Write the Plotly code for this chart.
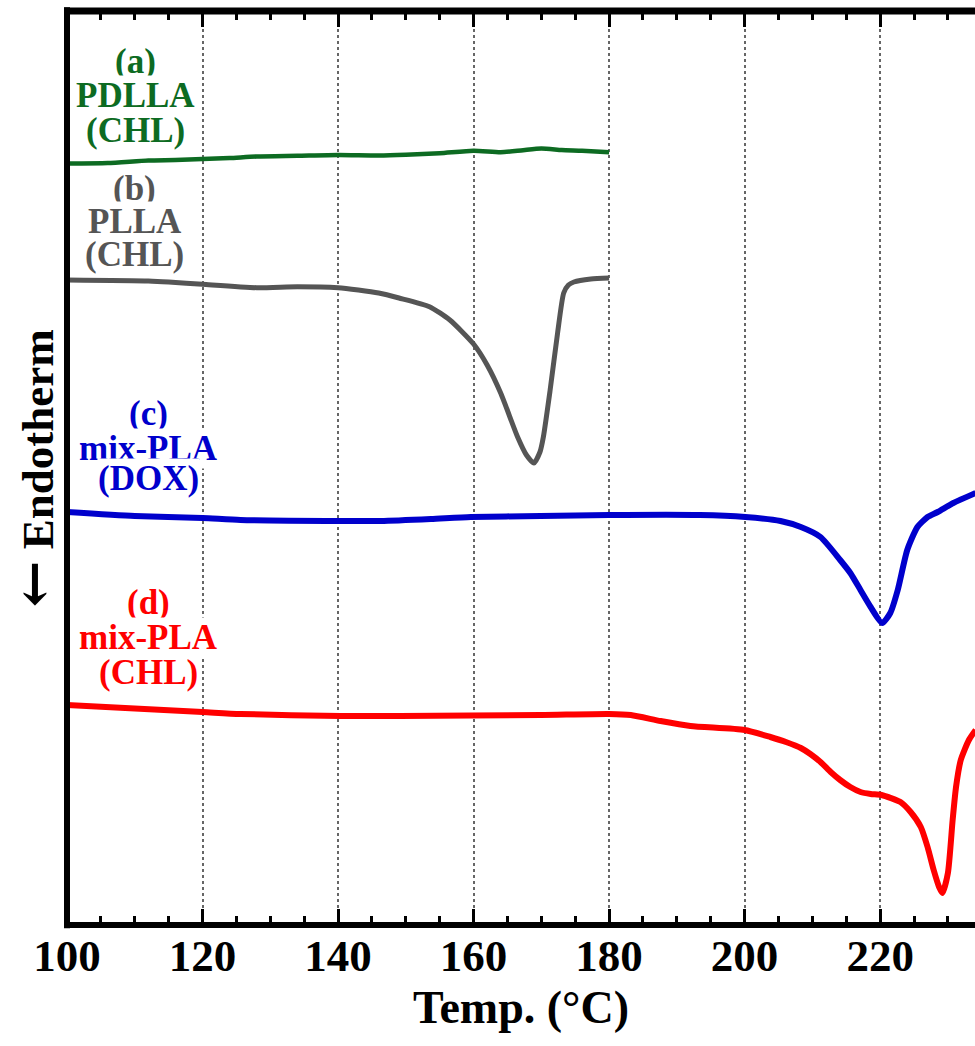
import plotly.graph_objects as go

# DSC heating scans, heat flow in arbitrary units (curves offset vertically)
temp_a = [100, 106, 112, 116, 120, 124, 128, 134, 140, 146, 150, 155, 160, 164, 167, 170, 173, 176, 180]
flow_a = [76.15, 76.2, 76.45, 76.5, 76.6, 76.7, 76.85, 76.92, 77.0, 76.95, 77.02, 77.17, 77.42, 77.28,
          77.45, 77.65, 77.5, 77.42, 77.27]

temp_b = [100, 112, 115, 120, 128, 134, 140, 143, 146, 149, 153.5, 156.5, 160, 162, 164, 166.5, 167.8,
          168.9, 169.8, 170.3, 171.3, 172.4, 173.3, 174, 174.8, 177.3, 180]
flow_b = [64.5, 64.4, 64.3, 64.07, 63.73, 63.83, 63.73, 63.5, 63.2, 62.7, 61.83, 60.5, 58.1, 56.0, 53.2,
          48.8, 47.0, 46.2, 47.3, 48.8, 53.5, 59.2, 63.2, 64.0, 64.3, 64.6, 64.7]

temp_c = [100, 110, 120, 125.6, 140.4, 146.3, 153.7, 159.6, 169.9, 180, 193.4, 200.1, 205.3, 208.3, 211.2,
          214.1, 215.6, 217.1, 218.6, 220.3, 221.5, 222.6, 224.0, 225.5, 227.0, 228.5, 230.8, 234.1]
flow_c = [41.3, 40.9, 40.7, 40.5, 40.4, 40.4, 40.6, 40.8, 40.9, 41.0, 41.0, 40.8, 40.4, 39.8, 38.8,
          36.5, 35.2, 33.5, 31.8, 30.2, 31.2, 33.5, 37.5, 39.8, 40.8, 41.3, 42.2, 43.2]

temp_d = [100, 120, 125.6, 140.4, 149.2, 169.9, 180, 183.2, 187.6, 192, 200, 203.8, 206.1, 208.3, 209.7,
          211.2, 212.7, 214.1, 215.6, 217.1, 218.6, 220.2, 223.0, 224.5, 226.0, 227.0, 227.9, 228.7,
          229.2, 230.0, 230.7, 231.2, 231.9, 233.1, 234.1]
flow_d = [22.0, 21.3, 21.1, 20.9, 20.9, 21.0, 21.1, 21.0, 20.4, 19.9, 19.5, 18.8, 18.3, 17.7, 17.1,
          16.3, 15.3, 14.5, 13.8, 13.3, 13.1, 13.0, 12.3, 11.3, 9.8, 7.8, 5.5, 3.8,
          3.2, 5.2, 10.5, 13.8, 16.5, 18.5, 19.5]

series_colors = ["#0d6b22", "#555555", "#0000cc", "#ff0000"]
series_widths = [4.5, 5, 6, 6]

# Sample labels, one entry per text line
label_lines = [
    ["(a)", "PDLLA", "(CHL)"],
    ["(b)", "PLLA", "(CHL)"],
    ["(c)", "mix-PLA", "(DOX)"],
    ["(d)", "mix-PLA", "(CHL)"],
]
label_x = [110.1, 110.0, 112.0, 112.0]
label_y = [
    [86.4, 83.0, 79.5],
    [73.7, 70.4, 67.1],
    [51.2, 47.7, 44.7],
    [32.3, 28.8, 25.3],
]

x_ticks = [100, 120, 140, 160, 180, 200, 220]

FONT = "Liberation Serif, Times New Roman, serif"

fig = go.Figure()
for T, H, c, w in zip([temp_a, temp_b, temp_c, temp_d], [flow_a, flow_b, flow_c, flow_d],
                      series_colors, series_widths):
    fig.add_trace(go.Scatter(
        x=T, y=H, mode="lines",
        line=dict(color=c, width=w, shape="spline", smoothing=0.6),
        showlegend=False, hoverinfo="skip",
    ))

for lines, lx, ly, c in zip(label_lines, label_x, label_y, series_colors):
    for txt, yy in zip(lines, ly):
        fig.add_annotation(
            x=lx, y=yy, xref="x", yref="y", text=txt, showarrow=False,
            xanchor="center", yanchor="middle",
            font=dict(family=FONT, size=35, color=c, weight="bold"),
            bgcolor="white", borderpad=0,
        )

# rotated y-axis caption
fig.add_annotation(
    x=-0.037, y=0.5, xref="paper", yref="paper",
    text="<span style='font-family:DejaVu Serif;font-size:56px'>\u2190</span> Endotherm",
    textangle=-90, showarrow=False, xanchor="center", yanchor="middle",
    font=dict(family=FONT, size=45, color="black", weight="bold"),
)

# frame: left, bottom and top edges
frame = dict(type="line", xref="paper", yref="paper", line=dict(color="black"), layer="above")
fig.add_shape(**frame, x0=0, x1=0, y0=-0.0035, y1=1.004, line_width=6)
fig.add_shape(**frame, x0=-0.0033, x1=1.0, y0=0, y1=0, line_width=6)
fig.add_shape(**frame, x0=-0.0033, x1=1.0, y0=1, y1=1, line_width=7)

fig.update_xaxes(
    range=[100, 234.0],
    tickvals=x_ticks, ticktext=[str(v) for v in x_ticks],
    ticks="inside", ticklen=16, tickwidth=3, tickcolor="black",
    mirror="ticks", showline=False, zeroline=False,
    showgrid=True, gridcolor="#666666", gridwidth=1.5, griddash="dot",
    minor=dict(dtick=5, tick0=100, ticks="inside", ticklen=9, tickwidth=3,
               tickcolor="black", showgrid=False),
    tickfont=dict(family=FONT, size=45, color="black", weight="bold"),
    title=dict(text="Temp. (\u00b0C)", standoff=10,
               font=dict(family=FONT, size=46, color="black", weight="bold")),
)
fig.update_yaxes(
    range=[0, 91.4], showticklabels=False, ticks="", showgrid=False,
    zeroline=False, showline=False,
)

fig.update_layout(
    width=975, height=1046,
    margin=dict(l=67, r=0, t=11, b=121, autoexpand=False),
    plot_bgcolor="white", paper_bgcolor="white",
)

fig.write_html("out.html")
